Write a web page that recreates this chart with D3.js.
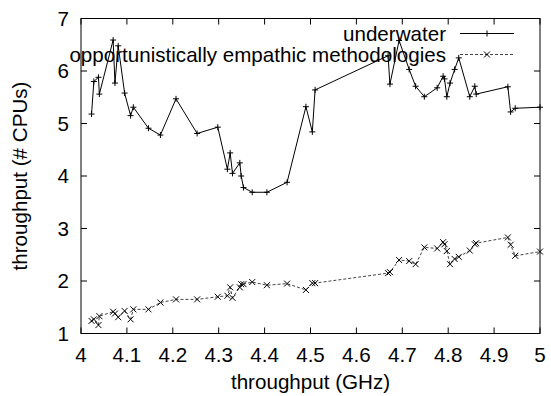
<!DOCTYPE html>
<html>
<head>
<meta charset="utf-8">
<script src="https://cdn.jsdelivr.net/npm/d3@7"></script>
<style>
  body { margin: 0; background: #fff; }
  text { font-family: "Liberation Sans", Arial, sans-serif; font-size: 20.6px; fill: #000; }
</style>
</head>
<body>
<div id="chart"></div>
<script>
// shared x values (GHz)
var xVals = [4.023, 4.028, 4.038, 4.040, 4.070, 4.074, 4.081, 4.095, 4.108, 4.114,
  4.147, 4.173, 4.207, 4.253, 4.298, 4.319, 4.325, 4.330, 4.346, 4.349,
  4.354, 4.373, 4.405, 4.449, 4.490, 4.504, 4.510, 4.669, 4.673, 4.693,
  4.715, 4.729, 4.748, 4.776, 4.789, 4.792, 4.797, 4.804, 4.814, 4.823,
  4.847, 4.858, 4.861, 4.930, 4.936, 4.946, 5.0];

var underwater = [5.18, 5.80, 5.88, 5.56, 6.59, 5.77, 6.48, 5.58, 5.15, 5.31,
  4.91, 4.78, 5.47, 4.81, 4.93, 4.13, 4.44, 4.05, 4.25, 4.00,
  3.78, 3.69, 3.69, 3.88, 5.32, 4.84, 5.64, 6.29, 5.75, 6.58,
  6.03, 5.71, 5.51, 5.68, 5.90, 5.85, 5.51, 5.77, 6.03, 6.25,
  5.51, 5.71, 5.56, 5.70, 5.22, 5.29, 5.31];

var methodologies = [1.24, 1.27, 1.16, 1.33, 1.415, 1.38, 1.31, 1.43, 1.27, 1.46,
  1.46, 1.59, 1.65, 1.65, 1.70, 1.72, 1.88, 1.68, 1.88, 1.94,
  1.94, 1.98, 1.92, 1.95, 1.83, 1.96, 1.96, 2.15, 2.17, 2.40,
  2.38, 2.32, 2.64, 2.62, 2.74, 2.70, 2.57, 2.32, 2.42, 2.46,
  2.58, 2.70, 2.72, 2.83, 2.69, 2.48, 2.56];

var xTicks = [4, 4.1, 4.2, 4.3, 4.4, 4.5, 4.6, 4.7, 4.8, 4.9, 5];
var yTicks = [1, 2, 3, 4, 5, 6, 7];
var seriesNames = ["underwater", "opportunistically empathic methodologies"];

function draw() {
  var w = 551, h = 396;
  var mLeft = 81, mRight = 540, mTop = 18.5, mBottom = 333.5;

  var svg = d3.select("#chart").append("svg")
    .attr("width", w).attr("height", h);

  var x = d3.scaleLinear().domain([4, 5]).range([mLeft, mRight]);
  var y = d3.scaleLinear().domain([1, 7]).range([mBottom, mTop]);

  // frame
  svg.append("rect")
    .attr("x", mLeft).attr("y", mTop)
    .attr("width", mRight - mLeft).attr("height", mBottom - mTop)
    .attr("fill", "none").attr("stroke", "#000").attr("stroke-width", 1);

  var tl = 6;
  // x ticks, mirrored on top
  xTicks.forEach(function(t) {
    svg.append("line").attr("x1", x(t)).attr("x2", x(t))
      .attr("y1", mBottom).attr("y2", mBottom - tl).attr("stroke", "#000");
    svg.append("line").attr("x1", x(t)).attr("x2", x(t))
      .attr("y1", mTop).attr("y2", mTop + tl).attr("stroke", "#000");
    svg.append("text").attr("x", x(t)).attr("y", 362)
      .attr("text-anchor", "middle").text(t);
  });
  yTicks.forEach(function(t) {
    svg.append("line").attr("x1", mLeft).attr("x2", mLeft + tl)
      .attr("y1", y(t)).attr("y2", y(t)).attr("stroke", "#000");
    svg.append("line").attr("x1", mRight).attr("x2", mRight - tl)
      .attr("y1", y(t)).attr("y2", y(t)).attr("stroke", "#000");
    svg.append("text").attr("x", 69).attr("y", y(t)).attr("dy", "0.35em")
      .attr("text-anchor", "end").text(t);
  });

  // axis titles
  svg.append("text").attr("x", (mLeft + mRight) / 2).attr("y", 389)
    .attr("text-anchor", "middle").text("throughput (GHz)");
  svg.append("text")
    .attr("transform", "translate(27," + ((mTop + mBottom) / 2) + ") rotate(-90)")
    .attr("text-anchor", "middle").text("throughput (# CPUs)");

  var line = d3.line()
    .x(function(d, i) { return x(xVals[i]); })
    .y(function(d) { return y(d); });

  function plus(g, cx, cy) {
    g.append("path").attr("d", "M" + (cx - 3) + "," + cy + "H" + (cx + 3) + "M" + cx + "," + (cy - 3) + "V" + (cy + 3))
      .attr("stroke", "#000").attr("fill", "none");
  }
  function cross(g, cx, cy) {
    g.append("path").attr("d", "M" + (cx - 3) + "," + (cy - 3) + "L" + (cx + 3) + "," + (cy + 3) +
      "M" + (cx - 3) + "," + (cy + 3) + "L" + (cx + 3) + "," + (cy - 3))
      .attr("stroke", "#000").attr("fill", "none");
  }

  // underwater
  svg.append("path").datum(underwater).attr("d", line)
    .attr("fill", "none").attr("stroke", "#000").attr("stroke-width", 1);
  var g1 = svg.append("g");
  underwater.forEach(function(d, i) { plus(g1, x(xVals[i]), y(d)); });

  // methodologies
  svg.append("path").datum(methodologies).attr("d", line)
    .attr("fill", "none").attr("stroke", "#444").attr("stroke-width", 1)
    .attr("stroke-dasharray", "3,2");
  var g2 = svg.append("g");
  methodologies.forEach(function(d, i) { cross(g2, x(xVals[i]), y(d)); });

  // legend
  var legY = [33.5, 54.5];
  svg.append("text").attr("x", 446).attr("y", legY[0] + 7)
    .attr("text-anchor", "end").text(seriesNames[0]);
  svg.append("line").attr("x1", 460).attr("x2", 514)
    .attr("y1", legY[0]).attr("y2", legY[0]).attr("stroke", "#000");
  plus(svg, 487, legY[0]);

  svg.append("text").attr("x", 446).attr("y", legY[1] + 7)
    .attr("text-anchor", "end").text(seriesNames[1]);
  svg.append("line").attr("x1", 460).attr("x2", 514)
    .attr("y1", legY[1]).attr("y2", legY[1]).attr("stroke", "#444")
    .attr("stroke-dasharray", "3,2");
  cross(svg, 487, legY[1]);
}

window.onload = draw;
</script>
</body>
</html>
